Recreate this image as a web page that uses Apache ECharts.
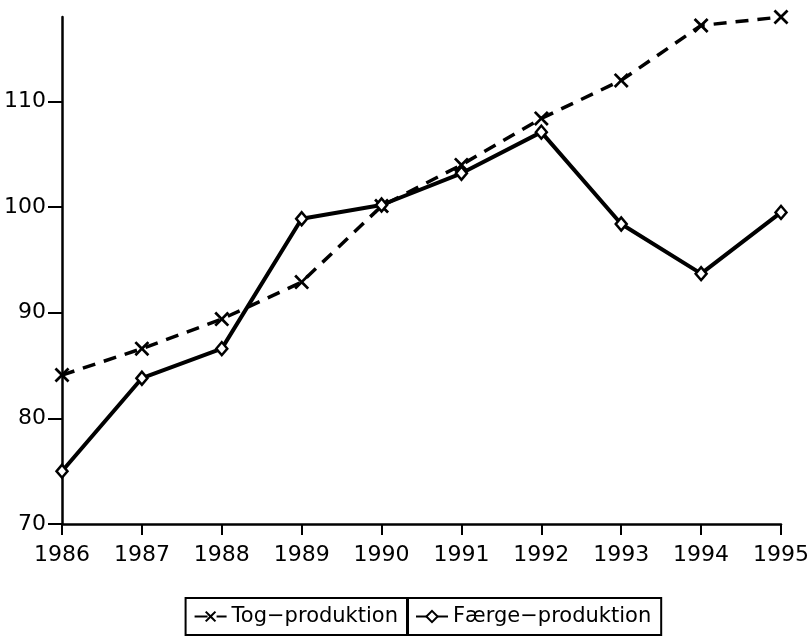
<!DOCTYPE html>
<html>
<head>
<meta charset="utf-8">
<script src="https://cdn.jsdelivr.net/npm/echarts@6/dist/echarts.min.js"></script>
<style>
  html, body { margin: 0; padding: 0; background: #fff; }
  #main { width: 812px; height: 636px; }
</style>
</head>
<body>
<div id="main"></div>
<script>
var years = ['1986', '1987', '1988', '1989', '1990', '1991', '1992', '1993', '1994', '1995']
var togProduktion = [84.1, 86.6, 89.4, 92.9, 100.1, 104.0, 108.4, 112.0, 117.2, 118.0]
var faergeProduktion = [75.0, 83.8, 86.6, 98.9, 100.2, 103.2, 107.1, 98.4, 93.7, 99.5]

var xMark = 'path://M0,1.3L1.3,0L5,3.7L8.7,0L10,1.3L6.3,5L10,8.7L8.7,10L5,6.3L1.3,10L0,8.7L3.7,5Z'
var font = 'DejaVu Sans'

var legendBox = {
  bottom: 1,
  itemWidth: 32,
  itemHeight: 14,
  itemGap: 0,
  padding: [8, 10, 8, 8],
  borderColor: '#000',
  borderWidth: 2,
  textStyle: { fontSize: 21, color: '#000', fontFamily: font }
}

var Chart = echarts.init(document.getElementById('main'))
var option = {
  animation: false,
  backgroundColor: '#fff',
  textStyle: { fontFamily: font, color: '#000' },
  grid: {
    left: 62,
    right: 30,
    top: 17,
    bottom: 112
  },
  legend: [
    Object.assign({ data: ['Tog\u2212produktion'], right: 404 }, legendBox),
    Object.assign({ data: ['F\u00e6rge\u2212produktion'], left: 407 }, legendBox)
  ],
  xAxis: [
    {
      type: 'category',
      boundaryGap: false,
      data: years,
      axisLine: { lineStyle: { color: '#000', width: 2.5 } },
      axisTick: { show: true, length: 11, lineStyle: { color: '#000', width: 2 } },
      axisLabel: { color: '#000', fontSize: 22, margin: 20, fontFamily: font },
      splitLine: { show: false }
    }
  ],
  yAxis: [
    {
      type: 'value',
      min: 70,
      max: 118,
      interval: 10,
      axisLine: { show: true, lineStyle: { color: '#000', width: 2.5 } },
      axisTick: { show: true, length: 14, lineStyle: { color: '#000', width: 2 } },
      axisLabel: {
        color: '#000',
        fontSize: 22,
        margin: 16,
        fontFamily: font,
        showMaxLabel: false,
        formatter: function (v) { return v % 10 === 0 ? String(v) : '' }
      },
      splitLine: { show: false }
    }
  ],
  series: [
    {
      name: 'Tog\u2212produktion',
      type: 'line',
      data: togProduktion,
      clip: false,
      symbol: xMark,
      symbolSize: 15,
      itemStyle: { color: '#000' },
      lineStyle: { color: '#000', width: 3.5, type: [13, 9] },
      z: 2
    },
    {
      name: 'F\u00e6rge\u2212produktion',
      type: 'line',
      data: faergeProduktion,
      clip: false,
      symbol: 'diamond',
      symbolSize: [11, 13],
      itemStyle: { color: '#fff', borderColor: '#000', borderWidth: 2.5 },
      lineStyle: { color: '#000', width: 4 },
      z: 3
    }
  ]
}
Chart.setOption(option)
</script>
</body>
</html>
